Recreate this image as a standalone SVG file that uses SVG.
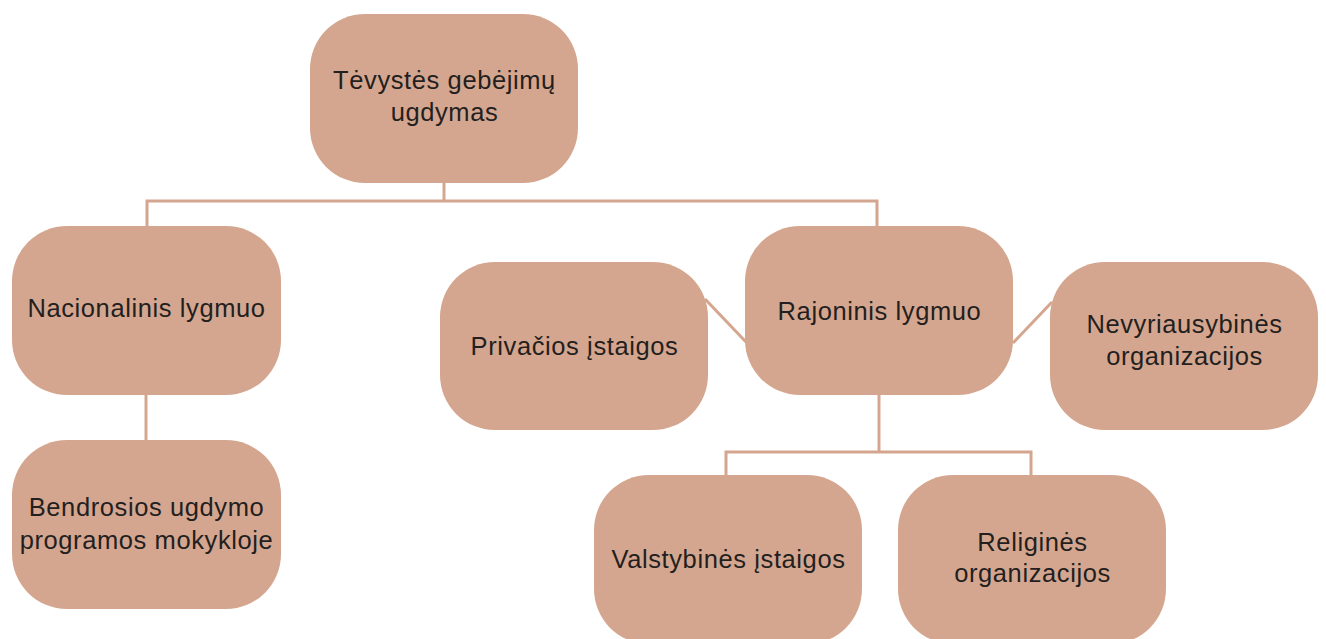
<svg xmlns="http://www.w3.org/2000/svg" width="1326" height="639" viewBox="0 0 1326 639">
<style>
.n{fill:#D5A68F}
.t{font-family:"Liberation Sans",Arial,sans-serif;font-size:25.5px;letter-spacing:0.6px;fill:#231F20;text-anchor:middle}
.c{fill:none;stroke:#D5A68F;stroke-width:3}
</style>
<rect width="1326" height="639" fill="#fff"/>
<g id="connectors">
<polyline class="c" points="444,183 444,201"/>
<polyline class="c" points="147,226 147,201 877,201 877,226"/>
<line class="c" x1="146" y1="395" x2="146" y2="440"/>
<line class="c" x1="879" y1="395" x2="879" y2="452"/>
<polyline class="c" points="726,475 726,452 1031,452 1031,475"/>
<line class="c" x1="705" y1="299" x2="746" y2="342"/>
<line class="c" x1="1013" y1="343" x2="1052" y2="302"/>
</g>
<g id="n1"><rect class="n" x="310" y="14" width="268" height="169" rx="55"/><text class="t" x="444.5" y="89">Tėvystės gebėjimų</text><text class="t" x="444.5" y="121">ugdymas</text></g>
<g id="n2"><rect class="n" x="12" y="226" width="269" height="169" rx="55"/><text class="t" x="146.5" y="317">Nacionalinis lygmuo</text></g>
<g id="n3"><rect class="n" x="12" y="440" width="269" height="169" rx="55"/><text class="t" x="146.5" y="516">Bendrosios ugdymo</text><text class="t" x="146.5" y="549">programos mokykloje</text></g>
<g id="n4"><rect class="n" x="440" y="262" width="268" height="168" rx="55"/><text class="t" x="574.5" y="355">Privačios įstaigos</text></g>
<g id="n5"><rect class="n" x="745" y="226" width="268" height="169" rx="55"/><text class="t" x="879.5" y="320">Rajoninis lygmuo</text></g>
<g id="n6"><rect class="n" x="1050" y="262" width="268" height="168" rx="55"/><text class="t" x="1184.5" y="333">Nevyriausybinės</text><text class="t" x="1184.5" y="365">organizacijos</text></g>
<g id="n7"><rect class="n" x="594" y="475" width="268" height="169" rx="55"/><text class="t" x="728.5" y="568">Valstybinės įstaigos</text></g>
<g id="n8"><rect class="n" x="898" y="475" width="268" height="169" rx="55"/><text class="t" x="1032.5" y="551">Religinės</text><text class="t" x="1032.5" y="582">organizacijos</text></g>
</svg>
